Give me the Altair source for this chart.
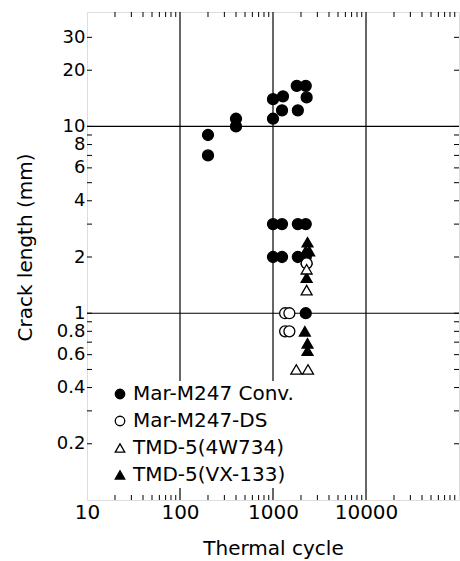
import altair as alt
import pandas as pd

# ---- data ----
series_names = ["Mar-M247 Conv.", "Mar-M247-DS", "TMD-5(4W734)", "TMD-5(VX-133)"]

conv_x = [200, 200, 400, 400, 1000, 1000, 1280, 1250, 1800, 2250, 2300, 1850,
          1000, 1250, 1850, 2250, 1000, 1250, 1850, 2250, 2250]
conv_y = [9.0, 7.0, 11.0, 10.0, 14.0, 11.0, 14.5, 12.2, 16.5, 16.5, 14.3, 12.2,
          3.0, 3.0, 3.0, 3.0, 2.0, 2.0, 2.0, 2.0, 1.0]

vx_x = [2350, 2250, 2450, 2300, 2300, 2200, 2350, 2350]
vx_y = [2.4, 2.15, 2.15, 1.95, 1.55, 0.8, 0.69, 0.63]

ds_x = [1350, 1500, 1350, 1500, 2300]
ds_y = [1.0, 1.0, 0.8, 0.8, 1.85]

w_x = [2300, 2300, 1780, 2380]
w_y = [1.72, 1.33, 0.5, 0.5]

x_ticks = [20, 30, 40, 50, 60, 70, 80, 90, 200, 300, 400, 500, 600, 700, 800, 900,
           2000, 3000, 4000, 5000, 6000, 7000, 8000, 9000,
           20000, 30000, 40000, 50000, 60000, 70000, 80000, 90000]
x_labels = [10, 100, 1000, 10000]
y_ticks = [0.2, 0.3, 0.4, 0.5, 0.6, 0.7, 0.8, 0.9, 1, 2, 3, 4, 5, 6, 7, 8, 9, 10, 20, 30]
y_labels = [0.2, 0.4, 0.6, 0.8, 1, 2, 4, 6, 8, 10, 20, 30]
v_grid = [100, 1000, 10000]
h_grid = [1, 10]

# draw filled markers first, open markers on top
rows = []
for x, y in zip(conv_x, conv_y):
    rows.append({"cycle": x, "crack": y, "series": series_names[0]})
for x, y in zip(vx_x, vx_y):
    rows.append({"cycle": x, "crack": y, "series": series_names[3]})
for x, y in zip(ds_x, ds_y):
    rows.append({"cycle": x, "crack": y, "series": series_names[1]})
for x, y in zip(w_x, w_y):
    rows.append({"cycle": x, "crack": y, "series": series_names[2]})
df = pd.DataFrame(rows)

W, H = 372, 488
TICK = 5
FONT = "DejaVu Sans"
xscale = alt.Scale(type="log", domain=[10, 100000], nice=False)
yscale = alt.Scale(type="log", domain=[0.1, 41], nice=False)

x_axis = alt.Axis(values=x_labels, format="d", orient="bottom",
                  ticks=False, tickSize=0, domain=False, grid=False, labelFont=FONT,
                  labelFontSize=20, labelColor="black", labelPadding=2, labelFlush=False,
                  labelOverlap=False,
                  title="Thermal cycle", titleFont=FONT, titleFontSize=20,
                  titleFontWeight="normal", titleColor="black", titleY=48,
                  titleBaseline="middle")
y_axis = alt.Axis(values=y_labels, format=".1~f", orient="left",
                  ticks=False, tickSize=0, domain=False, grid=False, labelFont=FONT,
                  labelFontSize=18, labelColor="black", labelPadding=2, labelFlush=False,
                  labelOverlap=False,
                  title="Crack length (mm)", titleFont=FONT, titleFontSize=20,
                  titleFontWeight="normal", titleColor="black", titleX=-62, titleY=235,
                  titleAngle=270, titleBaseline="middle", titleAlign="center")

legend = alt.Legend(title=None, orient="none", legendX=20, legendY=369,
                    labelFont=FONT, labelFontSize=20, labelColor="black", labelOffset=3,
                    labelLimit=400, rowPadding=7, padding=3, fillColor="white",
                    symbolSize=90, symbolStrokeWidth=1.3)

points = alt.Chart(df).mark_point(size=120, strokeWidth=1.3, opacity=1,
                                  filled=True).encode(
    x=alt.X("cycle:Q", scale=xscale, axis=x_axis),
    y=alt.Y("crack:Q", scale=yscale, axis=y_axis),
    shape=alt.Shape("series:N",
                    scale=alt.Scale(domain=series_names,
                                    range=["circle", "circle", "triangle-up", "triangle-up"]),
                    legend=legend),
    fill=alt.Fill("series:N",
                  scale=alt.Scale(domain=series_names,
                                  range=["black", "white", "white", "black"]),
                  legend=legend),
    stroke=alt.Stroke("series:N",
                      scale=alt.Scale(domain=series_names,
                                      range=["black", "black", "black", "black"]),
                      legend=legend),
)

vrules = alt.Chart(pd.DataFrame({"cycle": v_grid})).mark_rule(color="black", strokeWidth=1.2).encode(
    x=alt.X("cycle:Q", scale=xscale, axis=None)
)
hrules = alt.Chart(pd.DataFrame({"crack": h_grid})).mark_rule(color="black", strokeWidth=1.2).encode(
    y=alt.Y("crack:Q", scale=yscale, axis=None)
)

# inward tick marks on all four sides (positions through the scales)
xt = pd.DataFrame({"cycle": x_ticks})
yt = pd.DataFrame({"crack": y_ticks})
tick_style = dict(color="black", strokeWidth=1)
top_ticks = alt.Chart(xt).mark_rule(**tick_style).encode(
    x=alt.X("cycle:Q", scale=xscale, axis=None), y=alt.value(0), y2=alt.value(TICK))
bottom_ticks = alt.Chart(xt).mark_rule(**tick_style).encode(
    x=alt.X("cycle:Q", scale=xscale, axis=None), y=alt.value(H), y2=alt.value(H - TICK))
left_ticks = alt.Chart(yt).mark_rule(**tick_style).encode(
    y=alt.Y("crack:Q", scale=yscale, axis=None), x=alt.value(0), x2=alt.value(TICK))
right_ticks = alt.Chart(yt).mark_rule(**tick_style).encode(
    y=alt.Y("crack:Q", scale=yscale, axis=None), x=alt.value(W), x2=alt.value(W - TICK))

chart = alt.layer(vrules, hrules, top_ticks, bottom_ticks, left_ticks, right_ticks, points
).resolve_axis(x="independent", y="independent").properties(
    width=W, height=H,
    autosize=alt.AutoSizeParams(type="none"),
    padding={"left": 87, "top": 12, "right": 1, "bottom": 61},
).configure_view(stroke="black", strokeWidth=1.5).configure(background="white")

chart.save("out.html", embed_options={"renderer": "svg", "actions": False})
